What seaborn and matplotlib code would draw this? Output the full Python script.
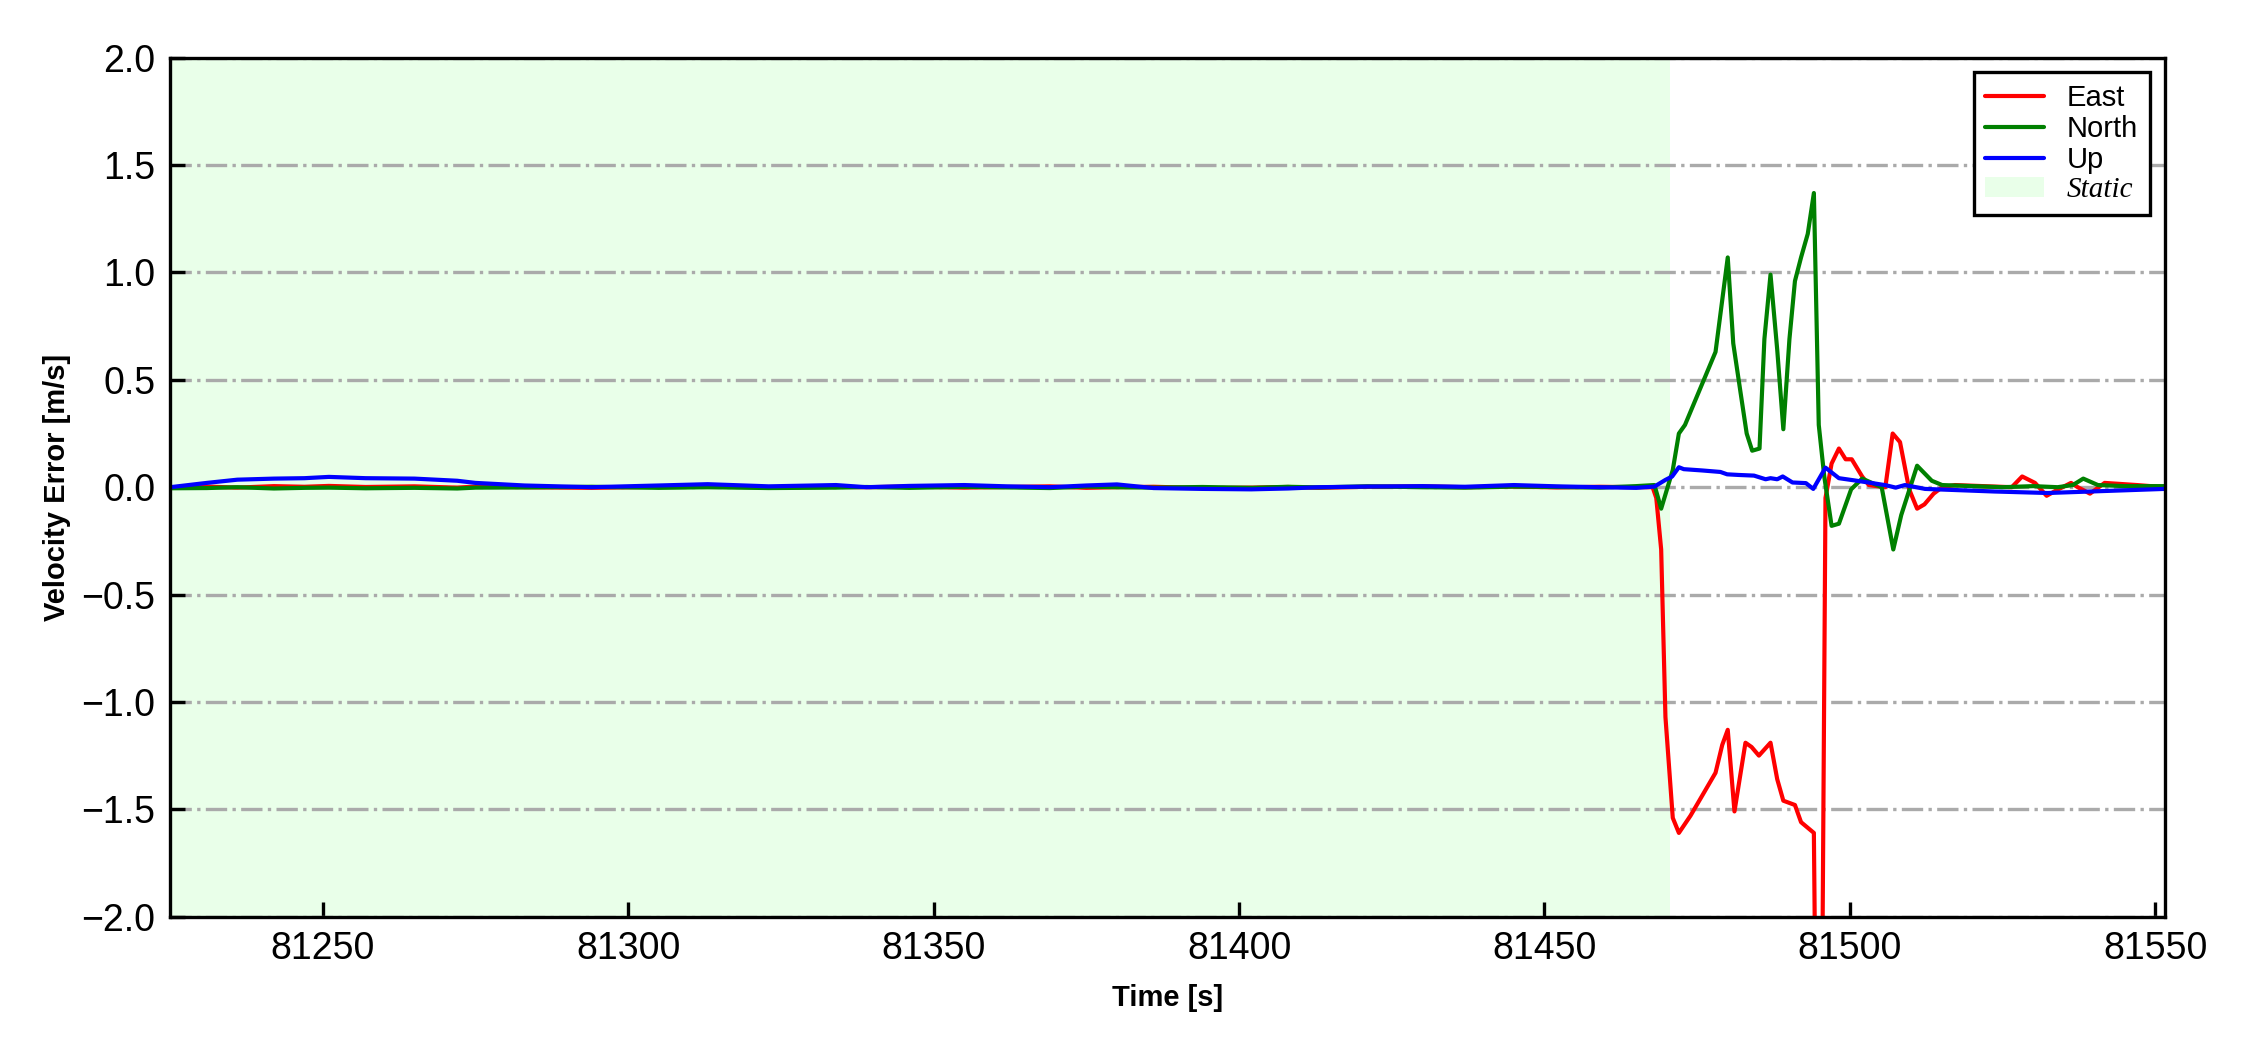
import numpy as np
import pandas as pd
import seaborn as sns
import matplotlib.pyplot as plt

# tempo na parte estatica (comum as tres componentes)
t_static = [81225, 81231, 81236, 81242, 81247, 81251, 81257, 81265, 81272, 81275,
            81283, 81294, 81305, 81313, 81323, 81334, 81339, 81346, 81355, 81362,
            81369, 81375, 81380, 81386, 81394, 81402, 81408, 81413, 81421, 81430,
            81437, 81445, 81452, 81459, 81465]
east_static = [0.0, 0.003, -0.002, 0.005, 0.002, 0.006, 0.001, 0.004, -0.002, 0.003,
               0.0, -0.003, 0.002, 0.004, -0.001, 0.002, 0.0, 0.003, -0.002, 0.001,
               0.004, -0.003, 0.0, 0.002, -0.004, -0.002, 0.001, -0.003, 0.002, 0.004,
               0.0, 0.003, -0.001, 0.002, 0.0]
north_static = [-0.005, -0.004, 0.0, -0.006, -0.003, -0.002, -0.005, -0.003, -0.006, -0.002,
                -0.001, 0.002, -0.003, 0.0, -0.004, -0.002, 0.001, -0.003, 0.002, -0.001,
                -0.004, 0.003, 0.0, -0.002, 0.001, -0.003, 0.002, -0.001, 0.004, 0.0,
                -0.002, 0.003, 0.001, -0.002, 0.005]
up_static = [0.0, 0.02, 0.035, 0.04, 0.042, 0.048, 0.042, 0.04, 0.03, 0.02,
             0.008, 0.0, 0.008, 0.014, 0.004, 0.01, 0.0, 0.006, 0.01, 0.004,
             0.0, 0.008, 0.013, -0.004, -0.008, -0.01, -0.006, 0.0, 0.003, 0.005,
             0.002, 0.01, 0.004, 0.0, -0.003]

# parte dinamica
t_east = [81467.7, 81468.3, 81469.1, 81469.8, 81471.0, 81472.0, 81473.9, 81478.0, 81479.1,
          81480.0, 81481.1, 81482.9, 81483.9, 81485.1, 81487.0, 81488.1, 81489.1, 81491.0,
          81492.0, 81494.1, 81495.0, 81496.0, 81497.0, 81498.2, 81499.3, 81500.3, 81502.0,
          81503.1, 81505.8, 81507.0, 81508.2, 81509.7, 81511.0, 81512.2, 81513.7, 81515.1,
          81517.2, 81526.5, 81528.2, 81530.3, 81532.2, 81534.1, 81536.2, 81537.3, 81539.3,
          81541.7, 81547.0, 81551.5]
v_east = [0.0, -0.05, -0.29, -1.07, -1.54, -1.61, -1.53, -1.33, -1.20,
          -1.13, -1.51, -1.19, -1.21, -1.25, -1.19, -1.36, -1.46, -1.48,
          -1.56, -1.61, -4.3, -0.05, 0.11, 0.18, 0.13, 0.13, 0.05,
          0.01, 0.0, 0.25, 0.21, -0.01, -0.10, -0.08, -0.03, 0.0,
          0.01, 0.0, 0.05, 0.02, -0.04, -0.01, 0.02, 0.0, -0.03,
          0.02, 0.01, 0.0]

t_north = [81468.0, 81469.1, 81471.0, 81472.0, 81473.0, 81478.0, 81480.0, 81480.9, 81482.1,
           81483.1, 81484.0, 81485.2, 81486.0, 81487.0, 81488.1, 81489.1, 81490.1, 81491.0,
           81492.0, 81493.1, 81494.1, 81494.9, 81495.8, 81497.0, 81498.2, 81500.2, 81502.0,
           81505.2, 81507.1, 81508.4, 81511.0, 81513.4, 81515.1, 81520.0, 81525.0, 81530.0,
           81534.0, 81536.5, 81538.2, 81540.6, 81545.0, 81551.5]
v_north = [0.01, -0.10, 0.08, 0.25, 0.29, 0.63, 1.07, 0.67, 0.44,
           0.25, 0.17, 0.18, 0.69, 0.99, 0.64, 0.27, 0.69, 0.96,
           1.07, 1.18, 1.37, 0.29, 0.05, -0.18, -0.17, -0.01, 0.04,
           0.0, -0.29, -0.13, 0.10, 0.03, 0.01, 0.005, 0.0, 0.005,
           0.0, 0.01, 0.04, 0.01, 0.005, 0.005]

t_up = [81468.0, 81469.8, 81470.9, 81472.0, 81472.8, 81475.8, 81478.8, 81479.9, 81481.8,
        81484.3, 81486.2, 81487.0, 81488.1, 81489.0, 81490.6, 81492.8, 81494.0, 81496.0,
        81498.2, 81500.9, 81503.7, 81505.9, 81507.5, 81509.0, 81512.3, 81523.6, 81532.4,
        81539.4, 81551.5]
v_up = [0.003, 0.034, 0.05, 0.093, 0.084, 0.078, 0.071, 0.06, 0.057,
        0.054, 0.037, 0.042, 0.037, 0.05, 0.022, 0.019, -0.008, 0.091,
        0.042, 0.031, 0.019, 0.009, -0.002, 0.01, -0.008, -0.02, -0.027,
        -0.02, -0.008]

static_fim = 81470.5
xlim = (81225, 81551.5)

df_e = pd.DataFrame({'t': t_static + t_east, 'v': east_static + v_east})
df_n = pd.DataFrame({'t': t_static + t_north, 'v': north_static + v_north})
df_u = pd.DataFrame({'t': t_static + t_up, 'v': up_static + v_up})

sns.set_style("ticks")
plt.rcParams['font.family'] = ['Liberation Sans', 'DejaVu Sans']
plt.rcParams['text.color'] = 'black'
plt.rcParams['axes.labelcolor'] = 'black'

fig = plt.figure(figsize=(7.5, 3.5), dpi=300)
ax = fig.add_subplot(111)
fig.subplots_adjust(left=0.0756, right=0.962, top=0.945, bottom=0.127)

ax.axvspan(xlim[0], static_fim, color='#00ff00', alpha=0.085, lw=0, label='Static', zorder=0)

sns.lineplot(data=df_e, x='t', y='v', color='#ff0000', lw=1.0, label='East', ax=ax,
             estimator=None, sort=False)
sns.lineplot(data=df_n, x='t', y='v', color='#008000', lw=1.0, label='North', ax=ax,
             estimator=None, sort=False)
sns.lineplot(data=df_u, x='t', y='v', color='#0000ff', lw=1.0, label='Up', ax=ax,
             estimator=None, sort=False)

ax.set_xlim(*xlim)
ax.set_ylim(-2, 2)
ax.set_yticks(np.arange(-2, 2.01, 0.5))
ax.set_xticks(np.arange(81250, 81551, 50))
ax.yaxis.set_major_formatter(plt.FuncFormatter(lambda v, p: f'{v:.1f}'.replace('-', '\u2212')))
ax.yaxis.grid(True, linestyle='-.', color='#aaaaaa', lw=0.8)
ax.xaxis.grid(False)
ax.set_axisbelow(True)

ax.tick_params(direction='in', length=3.5, width=0.8, labelsize=9, colors='black')
for s in ax.spines.values():
    s.set_visible(True)
    s.set_linewidth(0.8)
    s.set_color('black')

ax.set_xlabel('Time [s]', fontsize=7, fontweight='bold', labelpad=4)
ax.set_ylabel('Velocity Error [m/s]', fontsize=7, fontweight='bold', labelpad=2.5)

h, l = ax.get_legend_handles_labels()
ordem = [l.index('East'), l.index('North'), l.index('Up'), l.index('Static')]
leg = ax.legend([h[i] for i in ordem], [l[i] for i in ordem], loc='upper right',
                fontsize=7, frameon=True, fancybox=False, framealpha=1,
                edgecolor='black', labelspacing=0.1, borderaxespad=0.5)
leg.get_frame().set_linewidth(0.8)
txt = leg.get_texts()[3]
txt.set_fontfamily(['Liberation Serif'])
txt.set_fontstyle('italic')

plt.savefig('out.png', dpi=300)
